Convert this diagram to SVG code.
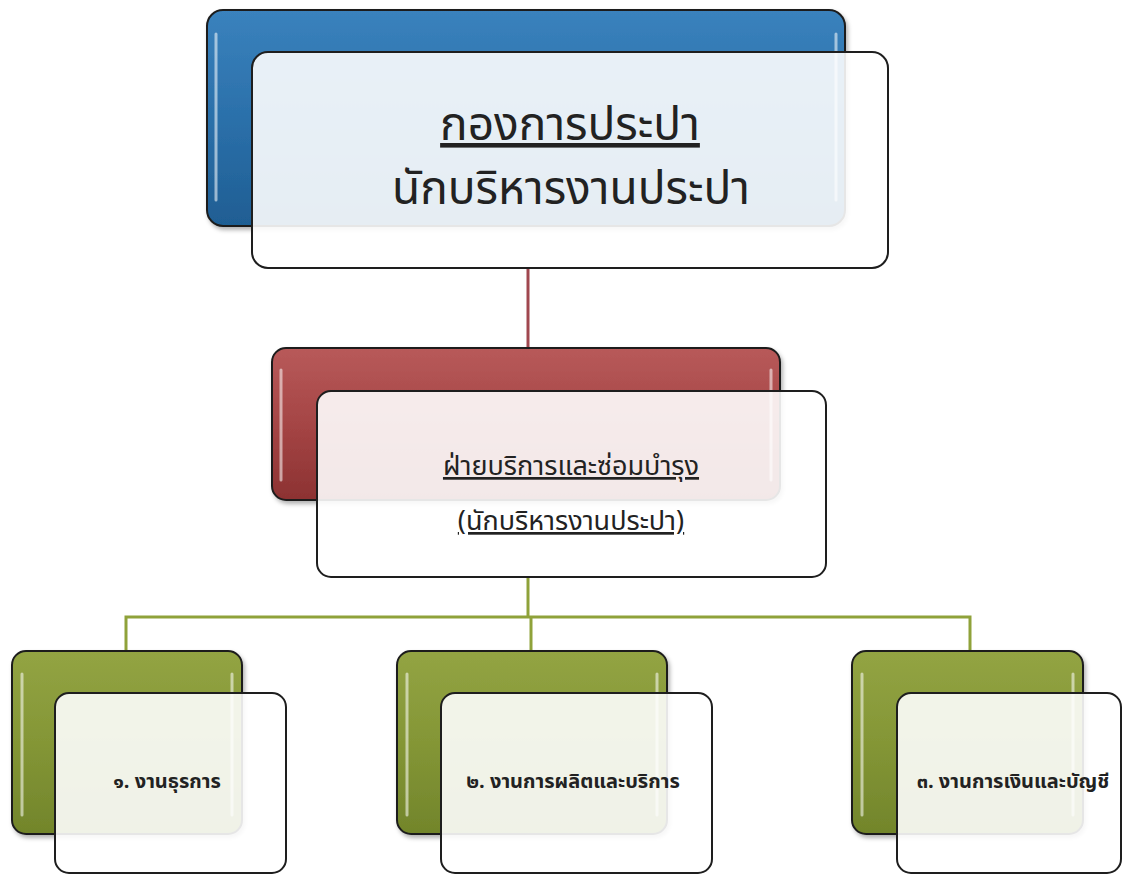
<svg xmlns="http://www.w3.org/2000/svg" width="1123" height="875" viewBox="0 0 1123 875">
<defs>
<linearGradient id="gBlue" x1="0" y1="0" x2="0" y2="1">
<stop offset="0" stop-color="#3a82bd"/><stop offset="0.5" stop-color="#2b70aa"/><stop offset="1" stop-color="#1f5e93"/>
</linearGradient>
<linearGradient id="gRed" x1="0" y1="0" x2="0" y2="1">
<stop offset="0" stop-color="#b85a5a"/><stop offset="0.5" stop-color="#a54545"/><stop offset="1" stop-color="#8c3232"/>
</linearGradient>
<linearGradient id="gGreen" x1="0" y1="0" x2="0" y2="1">
<stop offset="0" stop-color="#93a443"/><stop offset="0.5" stop-color="#849636"/><stop offset="1" stop-color="#72852b"/>
</linearGradient>
<filter id="sh" x="-5%" y="-5%" width="115%" height="115%">
<feDropShadow dx="2" dy="3" stdDeviation="2" flood-color="#000" flood-opacity="0.3"/>
</filter>
</defs>
<style>
.back{stroke:#1e1e1e;stroke-width:2;filter:url(#sh)}
.front{fill:#ffffff;fill-opacity:0.89;stroke:#1e1e1e;stroke-width:2}
.hl{stroke:#ffffff;stroke-opacity:0.55;stroke-width:3;stroke-linecap:round}
.t{font-family:"Noto Sans Thai","Noto Sans","DejaVu Sans",sans-serif;fill:#222;text-anchor:middle}
.big{font-size:46px}
.mid{font-size:27px;text-decoration:underline}
.sm{font-size:20px;font-weight:bold}
.red{stroke:#a0474f;stroke-width:3;fill:none}
.grn{stroke:#8fa23a;stroke-width:3;fill:none}
</style>
<rect width="1123" height="875" fill="#ffffff"/>
<g id="connectors">
<line class="red" x1="528" y1="268" x2="528" y2="349"/>
<polyline class="grn" points="528,577 528,617"/>
<polyline class="grn" points="126,652 126,617 970,617 970,652"/>
<line class="grn" x1="531" y1="617" x2="531" y2="652"/>
</g>
<g id="node-top">
<rect class="back" x="207" y="10" width="638" height="216" rx="16" fill="url(#gBlue)"/>
<line class="hl" x1="216" y1="34" x2="216" y2="200"/>
<line class="hl" x1="836" y1="34" x2="836" y2="200"/>
<rect class="front" x="252" y="52" width="636" height="216" rx="16"/>
<text class="t big" x="570" y="140" text-decoration="underline">กองการประปา</text>
<text class="t big" x="571" y="204">นักบริหารงานประปา</text>
</g>
<g id="node-mid">
<rect class="back" x="272" y="348" width="508" height="152" rx="14" fill="url(#gRed)"/>
<line class="hl" x1="281" y1="370" x2="281" y2="480"/>
<line class="hl" x1="771" y1="370" x2="771" y2="480"/>
<rect class="front" x="317" y="391" width="509" height="186" rx="14"/>
<text class="t mid" x="571" y="475">ฝ่ายบริการและซ่อมบำรุง</text>
<text class="t mid" x="571" y="530">(นักบริหารงานประปา)</text>
</g>
<g id="node-1">
<rect class="back" x="12" y="651" width="230" height="183" rx="14" fill="url(#gGreen)"/>
<line class="hl" x1="22" y1="674" x2="22" y2="815"/>
<line class="hl" x1="232" y1="674" x2="232" y2="815"/>
<rect class="front" x="55" y="693" width="231" height="180" rx="14"/>
<text class="t sm" x="167" y="788">๑. งานธุรการ</text>
</g>
<g id="node-2">
<rect class="back" x="397" y="651" width="270" height="183" rx="14" fill="url(#gGreen)"/>
<line class="hl" x1="407" y1="674" x2="407" y2="815"/>
<line class="hl" x1="657" y1="674" x2="657" y2="815"/>
<rect class="front" x="441" y="693" width="271" height="180" rx="14"/>
<text class="t sm" x="573" y="788">๒. งานการผลิตและบริการ</text>
</g>
<g id="node-3">
<rect class="back" x="852" y="651" width="231" height="183" rx="14" fill="url(#gGreen)"/>
<line class="hl" x1="862" y1="674" x2="862" y2="815"/>
<line class="hl" x1="1073" y1="674" x2="1073" y2="815"/>
<rect class="front" x="897" y="693" width="224" height="180" rx="14"/>
<text class="t sm" x="1013" y="788">๓. งานการเงินและบัญชี</text>
</g>
</svg>
